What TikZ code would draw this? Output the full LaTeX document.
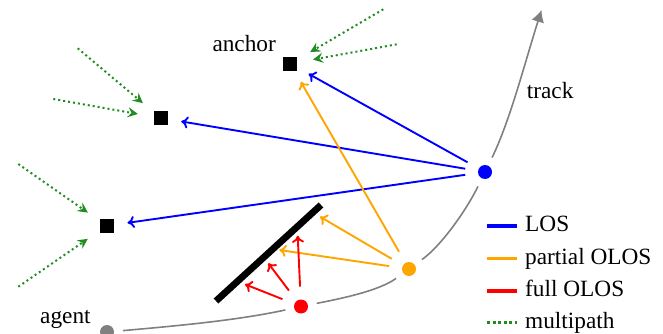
\documentclass[tikz,border=0pt]{standalone}
\usepackage{fontspec}
\setmainfont{Liberation Serif}
\usetikzlibrary{arrows.meta}
\definecolor{losblue}{RGB}{0,0,255}
\definecolor{olosorange}{RGB}{255,165,0}
\definecolor{fullred}{RGB}{255,0,0}
\definecolor{mpgreen}{RGB}{34,139,34}
\definecolor{trackgray}{RGB}{128,128,128}
\begin{document}
\begin{tikzpicture}[x=1pt,y=-1pt,
  every node/.style={font=\fontsize{23.3}{28}\selectfont},
  lbl/.style={inner sep=0pt, anchor=base west},
  anc/.style={circle, minimum size=40pt, inner sep=0pt, outer sep=0pt,
    path picture={\fill[black] ([xshift=-7pt,yshift=-7pt]path picture bounding box.center) rectangle ([xshift=7pt,yshift=7pt]path picture bounding box.center);}},
  agentpt/.style={circle, minimum size=32pt, inner sep=0pt, outer sep=0pt,
    path picture={\fill[#1] (path picture bounding box.center) circle[radius=7pt];}},
  tip/.style={-{To[length=7pt,width=12pt]}},
  los/.style={draw=losblue, line width=1.9pt, tip, shorten <=4pt, shorten >=1pt},
  olos/.style={draw=olosorange, line width=1.9pt, tip, shorten <=4pt},
  full/.style={draw=fullred, line width=1.9pt, tip, shorten <=4pt},
  mp/.style={draw=mpgreen, line width=2pt, dash pattern=on 2pt off 3pt,
    -{Stealth[length=10pt,width=10pt,inset=3.5pt]}, shorten >=3pt},
  track/.style={draw=trackgray, line width=1.6pt},
  legline/.style={line width=3.2pt},
]
\useasboundingbox (0,0) rectangle (663,334);

% anchors
\node[anc] (A1) at (290.3,63.7) {};
\node[anc] (A2) at (160.5,118) {};
\node[anc] (A3) at (106.7,225.8) {};

% agent positions
\node[agentpt=trackgray] (G) at (107,332) {};
\node[agentpt=fullred] (R) at (301,306.5) {};
\node[agentpt=olosorange] (O) at (409,269) {};
\node[agentpt=losblue] (B) at (485,172) {};
\coordinate (T) at (541.5,10);

% labels
\node[lbl] (lanchor) at (212.3,51.7) {anchor};
\node[lbl] (ltrack) at (526.7,99) {track};
\node[lbl] (lagent) at (40,323.7) {agent};

% track
\draw[track] (G) .. controls (172,326.3) and (237.4,320.5) .. (R);
\draw[track] (R) .. controls (338.2,299.1) and (378.3,291.3) .. (O);
\draw[track] (O) .. controls (442.2,244.9) and (467,208.9) .. (B);
\draw[track, -{Latex[length=12pt,width=13pt]}] (B) .. controls (510,120.8) and (524.4,64.2) .. (T);

% wall
\coordinate (W1) at (216,301);
\coordinate (W2) at (321,205);
\draw[line width=6.8pt] (W1) -- (W2);

% LOS
\draw[los] (B) -- (A1);
\draw[los] (B) -- (A2);
\draw[los] (B) -- (A3);

% partial OLOS
\coordinate (o1) at (279.3,250);
\coordinate (o2) at (320,216.7);
\draw[olos, shorten >=1pt] (O) -- (A1);
\draw[olos] (O) -- (o1);
\draw[olos] (O) -- (o2);

% full OLOS
\coordinate (r1) at (245,284.3);
\coordinate (r2) at (268.3,263.3);
\coordinate (r3) at (297.7,235.7);
\draw[full] (R) -- (r1);
\draw[full] (R) -- (r2);
\draw[full] (R) -- (r3);

% multipath
\coordinate (m1a) at (383.3,9.3);
\coordinate (m1b) at (396.7,44.3);
\coordinate (m2a) at (77.7,48.3);
\coordinate (m2b) at (53.3,99);
\coordinate (m3a) at (18.3,164);
\coordinate (m3b) at (18.3,286.7);
\draw[mp] (m1a) -- (A1);
\draw[mp] (m1b) -- (A1);
\draw[mp] (m2a) -- (A2);
\draw[mp] (m2b) -- (A2);
\draw[mp] (m3a) -- (A3);
\draw[mp] (m3b) -- (A3);

% legend
\coordinate (k1a) at (487,226);   \coordinate (k1b) at (517,226);
\coordinate (k2a) at (487,258.5); \coordinate (k2b) at (517,258.5);
\coordinate (k3a) at (487,291);   \coordinate (k3b) at (517,291);
\coordinate (k4a) at (487,322.5); \coordinate (k4b) at (517,322.5);
\draw[legline, losblue] (k1a) -- (k1b);
\draw[legline, olosorange] (k2a) -- (k2b);
\draw[legline, fullred] (k3a) -- (k3b);
\draw[legline, mpgreen, dash pattern=on 3pt off 2.5pt] (k4a) -- (k4b);
\node[lbl] (t1) at (525,231.7) {LOS};
\node[lbl] (t2) at (525,264.2) {partial OLOS};
\node[lbl] (t3) at (525,296.7) {full OLOS};
\node[lbl] (t4) at (525,328.2) {multipath};
\end{tikzpicture}
\end{document}
